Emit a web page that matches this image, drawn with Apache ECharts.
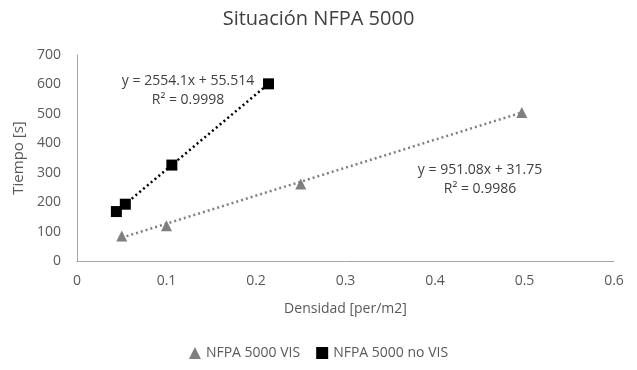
<!DOCTYPE html>
<html>
<head>
<meta charset="utf-8">
<script src="https://cdn.jsdelivr.net/npm/echarts@6/dist/echarts.min.js"></script>
<style>
  html, body { margin: 0; padding: 0; background: #fff; }
  #chart { width: 637px; height: 370px; }
</style>
</head>
<body>
<div id="chart"></div>
<script>
// data
const visX = [0.05, 0.1, 0.25, 0.497];
const visY = [85, 120, 262, 505];
const noVisX = [0.044, 0.054, 0.106, 0.214];
const noVisY = [168, 193, 326, 602];
// trendline coefficients as printed on the chart
const visFit = [951.08, 31.75];
const noVisFit = [2554.1, 55.514];
const visLabel = ['y = 951.08x + 31.75', 'R² = 0.9986'];
const noVisLabel = ['y = 2554.1x + 55.514', 'R² = 0.9998'];

const pairs = (xs, ys) => xs.map((x, i) => [x, ys[i]]);
const trend = (xs, fit) => {
  const a = Math.min(...xs), b = Math.max(...xs);
  return [[a, fit[0] * a + fit[1]], [b, fit[0] * b + fit[1]]];
};

const font = '"Open Sans", Lato, sans-serif';
const txt = '#595959';

let chart = echarts.init(document.getElementById('chart'));
chart.setOption({
  animation: false,
  textStyle: { fontFamily: font },
  title: {
    text: 'Situación NFPA 5000',
    left: 'center',
    top: 4,
    textStyle: { fontFamily: font, fontSize: 20, fontWeight: 'normal', color: '#404040' }
  },
  grid: { left: 77, right: 23, top: 55, bottom: 109 },
  legend: {
    bottom: 5,
    left: 'center',
    itemWidth: 12,
    itemHeight: 12,
    itemGap: 16,
    textStyle: { fontFamily: font, fontSize: 14, color: txt },
    data: [
      { name: 'NFPA 5000 VIS', icon: 'triangle' },
      { name: 'NFPA 5000 no VIS', icon: 'rect' }
    ]
  },
  xAxis: {
    type: 'value',
    min: 0, max: 0.6, interval: 0.1,
    name: 'Densidad [per/m2]',
    nameLocation: 'middle',
    nameGap: 41,
    nameTextStyle: { fontFamily: font, fontSize: 14, color: txt },
    axisLine: { show: true, lineStyle: { color: '#a6a6a6', width: 1 } },
    axisTick: { show: false },
    splitLine: { show: false },
    axisLabel: { fontSize: 14, color: txt, margin: 13, formatter: v => String(+v.toFixed(1)) }
  },
  yAxis: {
    type: 'value',
    min: 0, max: 700, interval: 100,
    name: 'Tiempo [s]',
    nameLocation: 'middle',
    nameGap: 48,
    nameTextStyle: { fontFamily: font, fontSize: 15, color: txt },
    axisLine: { show: true, lineStyle: { color: '#a6a6a6', width: 1 } },
    axisTick: { show: false },
    splitLine: { show: false },
    axisLabel: { fontSize: 14, color: txt, margin: 16 }
  },
  series: [
    {
      name: 'NFPA 5000 VIS',
      type: 'line',
      data: trend(visX, visFit),
      symbol: 'none',
      lineStyle: { color: '#7f7f7f', width: 2.5, type: [2, 3] },
      itemStyle: { color: '#7f7f7f' },
      silent: true,
      z: 1
    },
    {
      name: 'NFPA 5000 no VIS',
      type: 'line',
      data: trend(noVisX, noVisFit),
      symbol: 'none',
      lineStyle: { color: '#000', width: 2.5, type: [2, 3] },
      itemStyle: { color: '#000' },
      silent: true,
      z: 1
    },
    {
      name: 'NFPA 5000 VIS',
      type: 'scatter',
      data: pairs(visX, visY),
      symbol: 'triangle',
      symbolSize: 11,
      itemStyle: { color: '#7f7f7f', opacity: 1 },
      z: 3
    },
    {
      name: 'NFPA 5000 no VIS',
      type: 'scatter',
      data: pairs(noVisX, noVisY),
      symbol: 'rect',
      symbolSize: 11,
      itemStyle: { color: '#000', opacity: 1 },
      z: 3
    }
  ],
  graphic: [
    {
      type: 'text', x: 188, y: 72,
      style: { text: noVisLabel.join('\n'), font: '14px ' + font, fill: '#404040', align: 'center', lineHeight: 19 }
    },
    {
      type: 'text', x: 480, y: 161,
      style: { text: visLabel.join('\n'), font: '14px ' + font, fill: '#404040', align: 'center', lineHeight: 19 }
    }
  ]
});
</script>
</body>
</html>
